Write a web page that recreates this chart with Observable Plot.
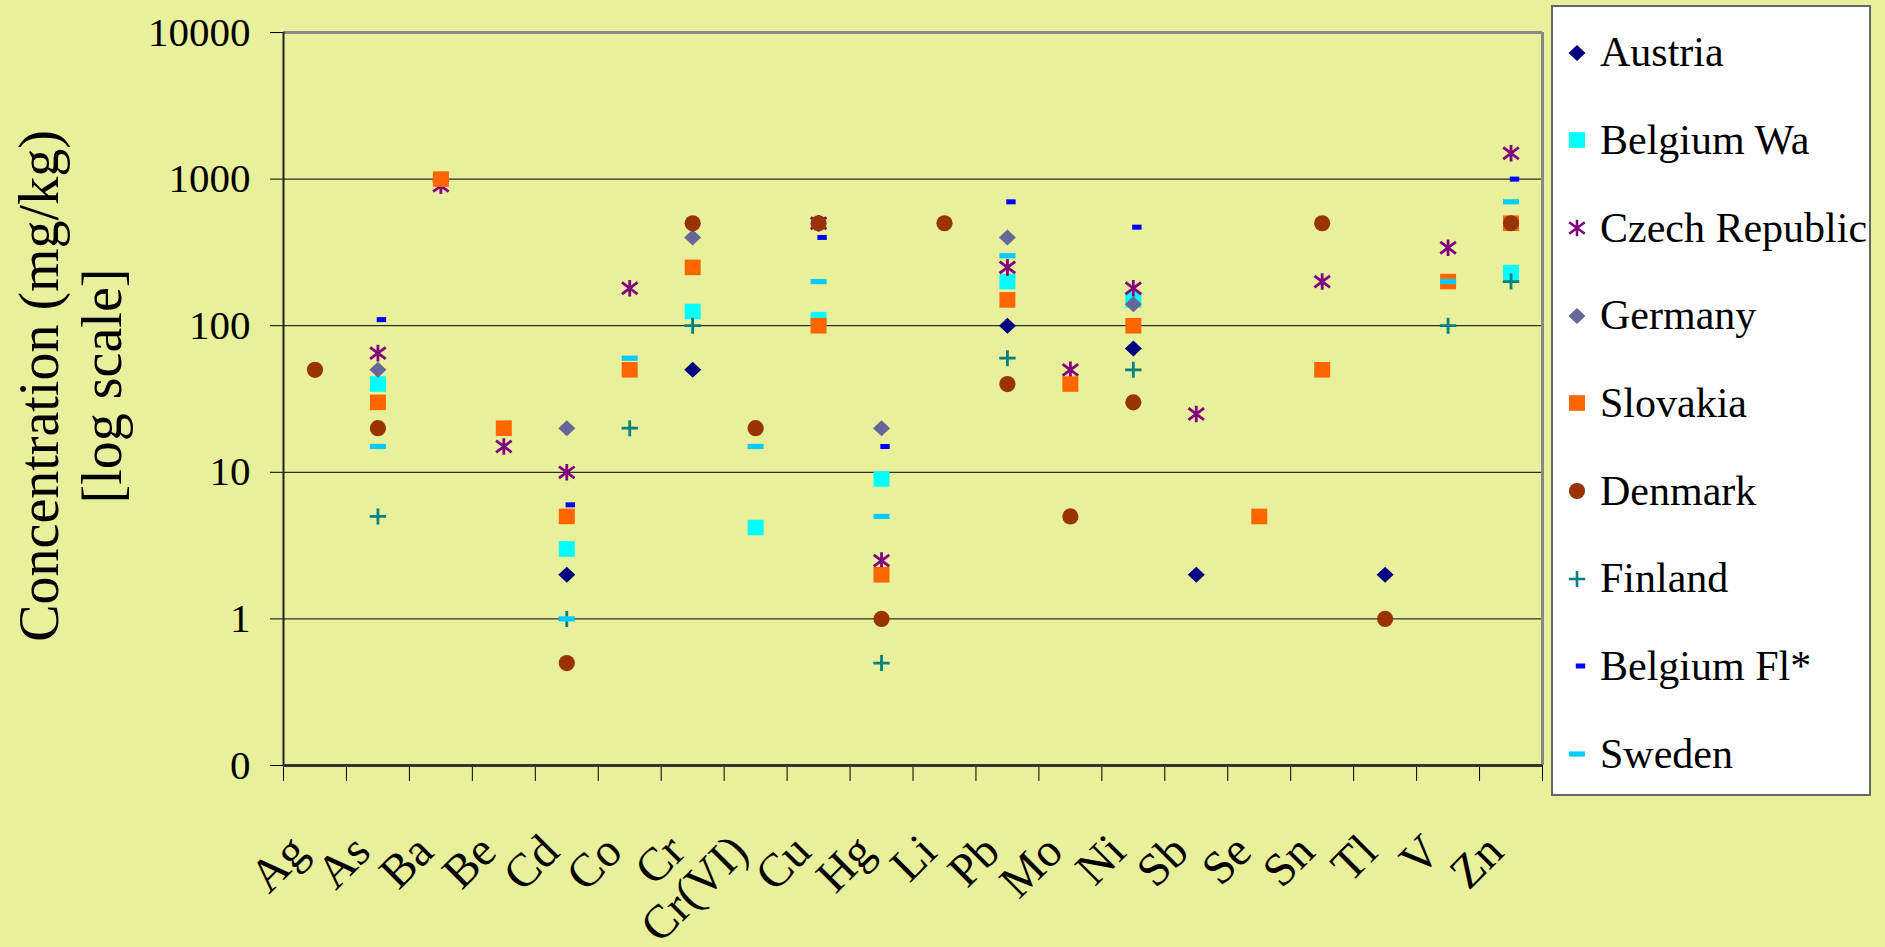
<!DOCTYPE html>
<html><head><meta charset="utf-8">
<script src="https://cdn.jsdelivr.net/npm/d3@7"></script>
<script src="https://cdn.jsdelivr.net/npm/@observablehq/plot@0.6"></script>
<style>
html,body{margin:0;padding:0;background:#e9f09b;}
#wrap{position:relative;width:1885px;height:947px;overflow:hidden;font-family:"Liberation Serif","Times New Roman",serif;}
#legend{position:absolute;left:1551px;top:5px;width:320px;height:791px;background:#fff;border:2px solid #666;box-sizing:border-box;}
.lt{position:absolute;left:1600px;height:48px;line-height:48px;font-size:42px;color:#000;white-space:nowrap;}
.lm{position:absolute;width:24px;height:24px;overflow:visible;}
</style></head><body><div id="wrap"></div>
<script>
// ---- data ----
const categories = ["Ag","As","Ba","Be","Cd","Co","Cr","Cr(VI)","Cu","Hg","Li","Pb","Mo","Ni","Sb","Se","Sn","Tl","V","Zn"];
const seriesNames = ["Austria","Belgium Wa","Czech Republic","Germany","Slovakia","Denmark","Finland","Belgium Fl*","Sweden"];
const seriesColors = ["#000080","#00ffff","#800080","#666699","#ff6600","#993300","#008080","#0000ff","#00ccff"];
const austria   = [null,null,null,null,2,null,50,null,null,null,null,100,null,70,2,null,null,2,null,null];
const belgiumWa = [null,40,null,null,3,null,125,4.2,110,9,null,200,null,150,null,null,null,null,null,230];
const czech     = [null,65,900,15,10,180,null,null,500,2.5,null,250,50,180,25,null,200,null,340,1500];
const germany   = [null,50,null,null,20,null,400,null,null,20,null,400,null,140,null,null,null,null,null,null];
const slovakia  = [null,30,1000,20,5,50,250,null,100,2,null,150,40,100,null,5,50,null,200,500];
const denmark   = [50,20,null,null,0.5,null,500,20,500,1,500,40,5,30,null,null,500,1,null,500];
const finland   = [null,5,null,null,1,20,100,null,null,0.5,null,60,null,50,null,null,null,null,100,200];
const belgiumFl = [null,110,null,null,6,null,null,null,400,15,null,700,null,470,null,null,null,null,null,1000];
const sweden    = [null,15,null,null,1,60,null,15,200,5,null,300,null,null,null,null,null,null,200,700];
const seriesValues = [austria,belgiumWa,czech,germany,slovakia,denmark,finland,belgiumFl,sweden];
const yTicks = [0.1,1,10,100,1000,10000];
const yTickLabels = ["0","1","10","100","1000","10000"];
const gridValues = [1,10,100,1000];

// ---- marker shapes ----
const shapes = {
  diamond: {draw(c){c.moveTo(0,-8);c.lineTo(8.5,0);c.lineTo(0,8);c.lineTo(-8.5,0);c.closePath();}},
  square: {draw(c){c.rect(-8,-7.8,16,15.6);}},
  circle: {draw(c){c.moveTo(8.1,0);c.arc(0,0,8.1,0,2*Math.PI);c.closePath();}},
  asterisk: {draw(c){c.moveTo(0,-8.3);c.lineTo(0,8.3);c.moveTo(-7.8,-5.8);c.lineTo(7.8,5.8);c.moveTo(-7.8,5.8);c.lineTo(7.8,-5.8);}},
  plus: {draw(c){c.moveTo(-8.2,0);c.lineTo(8.2,0);c.moveTo(0,-8);c.lineTo(0,8);}},
  dashFl: {draw(c){c.rect(-1.2,-2.5,9.4,5);}},
  dashSe: {draw(c){c.rect(-8,-2.6,16,5.2);}}
};
const seriesShapes = ["diamond","square","asterisk","diamond","square","circle","plus","dashFl","dashSe"];
const strokeShapes = new Set(["asterisk","plus"]);

const dotMarks = seriesValues.map((vals, s) => {
  const rows = vals.map((v, j) => ({cat: categories[j], v})).filter(d => d.v != null);
  const shp = seriesShapes[s];
  const isStroke = strokeShapes.has(shp);
  return Plot.dot(rows, {
    x: d => categories.indexOf(d.cat) + 0.5,
    y: "v",
    symbol: shapes[shp],
    r: 8,
    fill: isStroke ? "none" : seriesColors[s],
    stroke: isStroke ? seriesColors[s] : "none",
    strokeWidth: isStroke ? 2.8 : 0
  });
});

const chart = Plot.plot({
  width: 1885,
  height: 947,
  marginLeft: 283,
  marginRight: 343,
  marginTop: 32,
  marginBottom: 182,
  x: {type: "linear", domain: [0, categories.length]},
  y: {type: "log", domain: [0.1, 10000]},
  style: {background: "transparent", fontFamily: "'Liberation Serif','Times New Roman',serif", fontSize: "41px", color: "black", overflow: "visible"},
  marks: [
    Plot.ruleY(gridValues, {stroke: "black", strokeWidth: 1}),
    Plot.ruleY([10000], {stroke: "#888", strokeWidth: 3}),
    Plot.ruleX([categories.length], {stroke: "#888", strokeWidth: 3}),
    Plot.axisY({ticks: yTicks, tickFormat: d => yTickLabels[yTicks.indexOf(d)], tickSize: 13, tickPadding: 20, fontSize: 41, label: null}),
    Plot.axisX({ticks: d3.range(categories.length + 1), tickFormat: () => "", tickSize: 16, label: null}),
    Plot.ruleX([0], {stroke: "#222", strokeWidth: 2}),
    Plot.ruleY([0.1], {stroke: "#333", strokeWidth: 3}),
    Plot.text(categories, {x: (d, i) => i + 0.5, text: d => d, frameAnchor: "bottom", rotate: -45, textAnchor: "end", lineAnchor: "middle", fontSize: 47, dx: -16, dy: 78, fill: "black"}),
    Plot.text(["Concentration (mg/kg)\n[log scale]"], {text: d => d, frameAnchor: "left", rotate: -90, fontSize: 56, lineHeight: 1.125, textAnchor: "middle", lineAnchor: "middle", dx: -214, dy: -13, fill: "black"}),
    ...dotMarks
  ]
});
const wrap = document.getElementById("wrap");
chart.style.position = "absolute";
chart.style.left = "0px";
chart.style.top = "0px";
wrap.appendChild(chart);

// ---- legend ----
const leg = document.createElement("div");
leg.id = "legend";
wrap.appendChild(leg);
seriesNames.forEach((name, s) => {
  const cy = 52.5 + s * 87.7;
  const shp = seriesShapes[s];
  const isStroke = strokeShapes.has(shp);
  const p = d3.symbol().type(shapes[shp])();
  const svg = document.createElementNS("http://www.w3.org/2000/svg", "svg");
  svg.setAttribute("class", "lm");
  svg.setAttribute("viewBox", "-12 -12 24 24");
  svg.style.left = (1577 - 12) + "px";
  svg.style.top = (cy - 12) + "px";
  const path = document.createElementNS("http://www.w3.org/2000/svg", "path");
  path.setAttribute("d", p);
  path.setAttribute("fill", isStroke ? "none" : seriesColors[s]);
  path.setAttribute("stroke", isStroke ? seriesColors[s] : "none");
  path.setAttribute("stroke-width", isStroke ? 2.6 : 0);
  svg.appendChild(path);
  wrap.appendChild(svg);
  const t = document.createElement("div");
  t.className = "lt";
  t.style.top = (cy - 24.3) + "px";
  t.textContent = name;
  wrap.appendChild(t);
});
</script>
</body></html>
